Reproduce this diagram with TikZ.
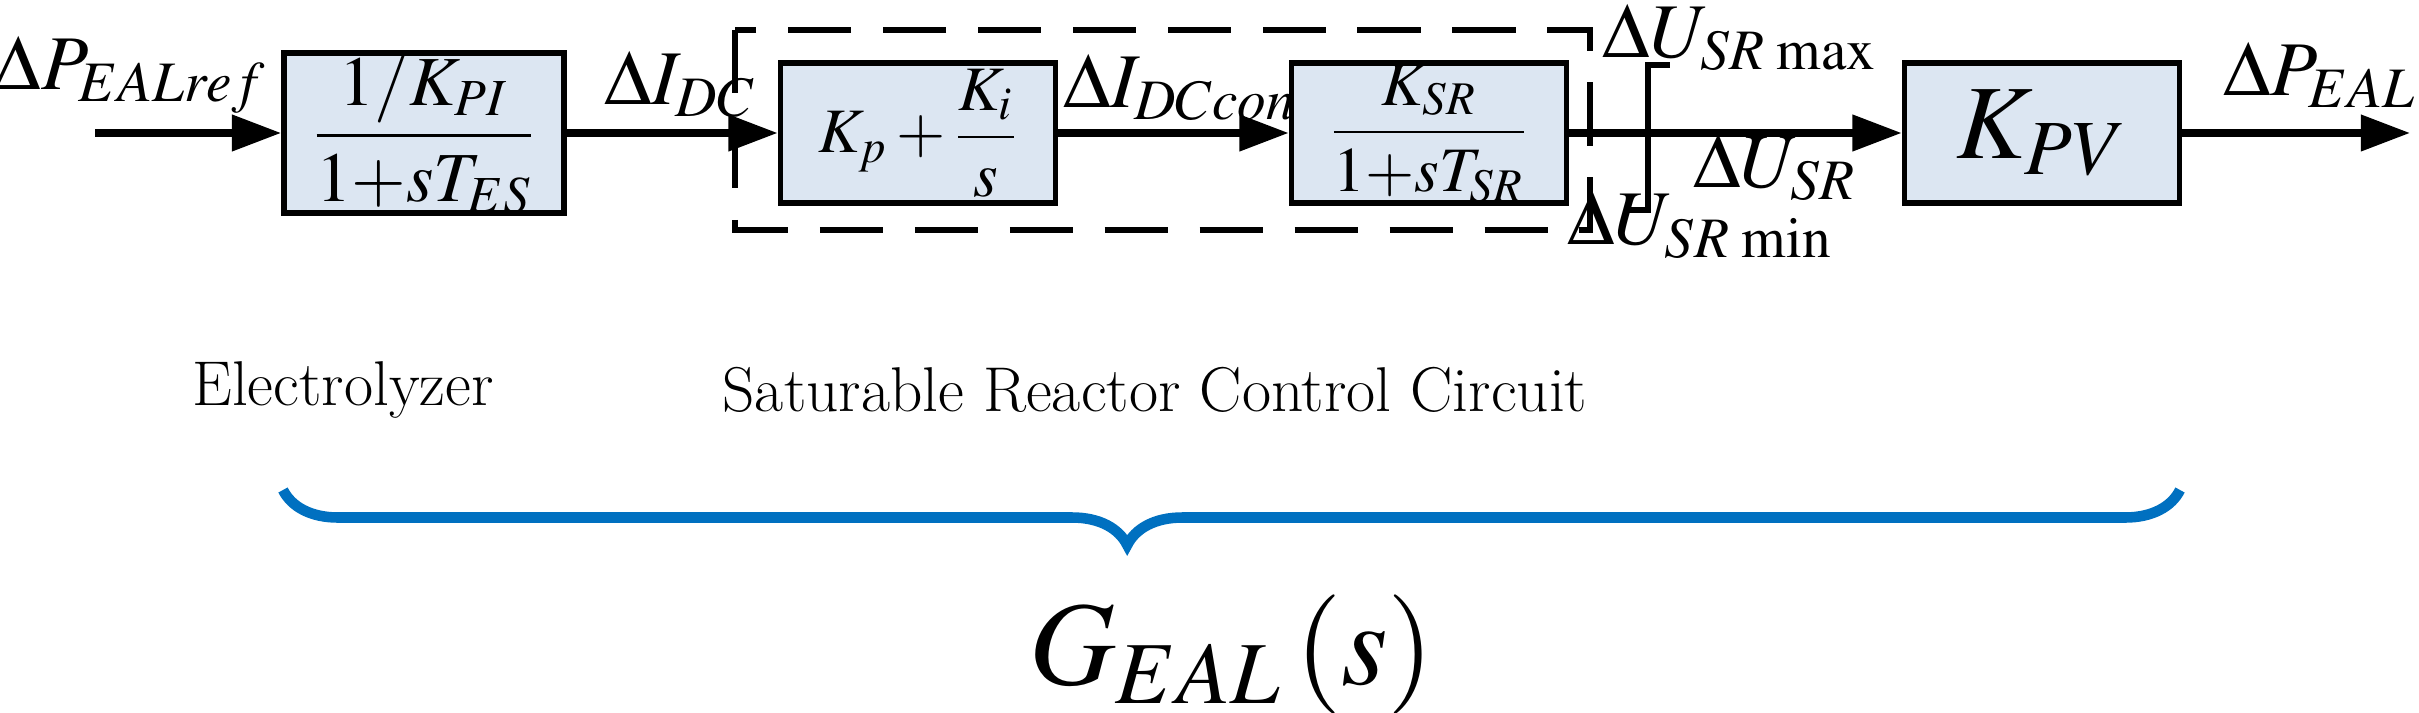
\documentclass[tikz,border=0pt]{standalone}
\usepackage{amsmath}
\usepackage{fontspec}
\setmainfont{Liberation Serif}
\usepackage{mathptmx}
\usetikzlibrary{arrows.meta,decorations.pathreplacing}
\definecolor{bfill}{RGB}{220,230,242}
\definecolor{bblue}{RGB}{0,112,192}
\begin{document}
\begin{tikzpicture}[x=0.01cm,y=-0.01cm,
 blk/.style={draw,line width=1.6pt,fill=bfill,minimum width=2.8cm,minimum height=1.4cm,inner sep=0pt},
 sig/.style={line width=2pt,-{Triangle[length=14pt,width=10pt]}},
 big/.style={font=\fontsize{22}{26}\selectfont},
 lab/.style={font=\fontsize{18}{22}\selectfont\bfseries}]
\useasboundingbox (0,0) rectangle (2419,713);
\node[blk] (b1) at (424,133) {\fontsize{20}{24}\selectfont$\dfrac{1/K_{PI}}{1{+}sT_{ES}}$};
\node[blk,minimum width=2.75cm] (b2) at (918,133) {\fontsize{18}{22}\selectfont$K_p+\dfrac{K_i}{s}$};
\node[blk,minimum width=2.75cm] (b3) at (1429,133) {\fontsize{18}{22}\selectfont$\dfrac{K_{SR}}{1{+}sT_{SR}}$};
\node[blk,minimum width=2.75cm] (b4) at (2042,133) {\fontsize{30}{34}\selectfont$K_{PV}$};
\coordinate (in) at (95,133);
\coordinate (out) at (2410,133);
\draw[dashed,line width=1.8pt,dash pattern=on 18pt off 9pt] (735,30) rectangle (1590,230);
\draw[sig] (in) -- (b1);
\draw[sig] (b1) -- (b2);
\draw[sig] (b2) -- (b3);
\draw[sig] (b3) -- (b4);
\draw[sig] (b4) -- (out);
% saturation
\draw[line width=1.6pt] (1625,210) -- (1648,210) -- (1648,65) -- (1670,65);
\node[big] (l1) at (130,75) {$\Delta P_{EALref}$};
\node[big] (l2) at (680,85) {$\Delta I_{DC}$};
\node[big] (l3) at (1180,88) {$\Delta I_{DCcon}$};
\node[big] (l4) at (1740,38) {$\Delta U_{SR\,\max}$};
\node[big] (l5) at (1775,168) {$\Delta U_{SR}$};
\node[big] (l6) at (1700,225) {$\Delta U_{SR\,\min}$};
\node[big] (l7) at (2320,75) {$\Delta P_{EAL}$};
\node[lab] (t1) at (343,390) {Electrolyzer};
\node[lab] (t2) at (1155,390) {Saturable Reactor Control Circuit};
\draw[bblue,line width=3pt,decorate,decoration={brace,amplitude=0.55cm,aspect=0.555}] (2180,490) -- (283,490);
\node[font=\fontsize{34}{40}\selectfont] (g) at (1232,655) {$G_{EAL}\left(s\right)$};
\end{tikzpicture}
\end{document}
